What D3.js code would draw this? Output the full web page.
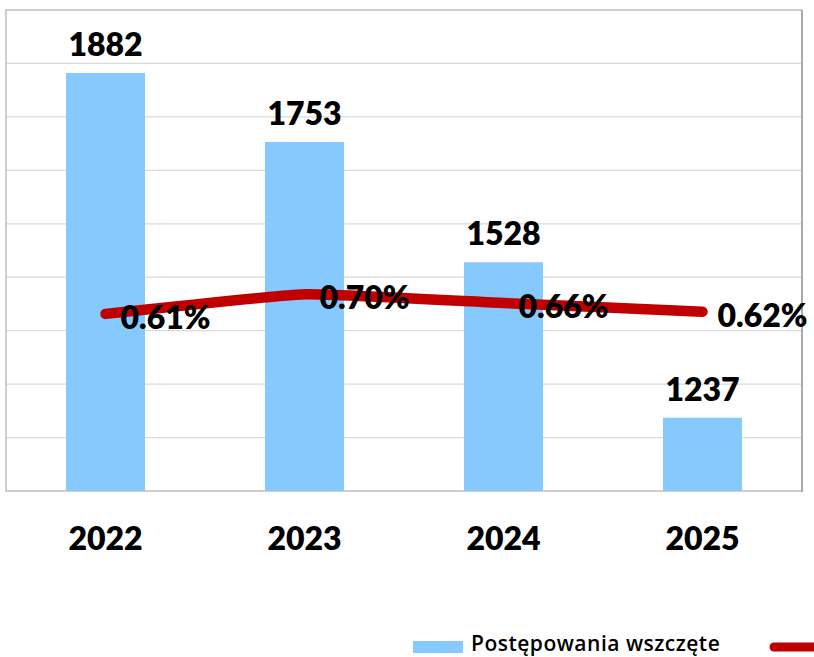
<!DOCTYPE html>
<html>
<head>
<meta charset="utf-8">
<script src="https://cdn.jsdelivr.net/npm/d3@7"></script>
<style>
  html, body { margin: 0; padding: 0; background: #fff; }
  svg { display: block; }
  .val { font-family: Lato, "Open Sans", sans-serif; font-weight: 800; font-size: 32px; fill: #000; }
  .legend { font-family: "Open Sans", sans-serif; font-weight: 600; font-size: 21px; letter-spacing: 0.5px; fill: #000; }
</style>
</head>
<body>
<svg id="chart" width="814" height="657"></svg>
<script>
// Chart data
const years = ['2022', '2023', '2024', '2025'];
const initiated = [1882, 1753, 1528, 1237];
const sharePct = [0.61, 0.70, 0.66, 0.62];
const countDomain = [1100, 2000];
const shareDomain = [-0.2, 2.0];
const legendLabels = ['Postępowania wszczęte'];

const BAR_COLOR = '#85c9ff';
const LINE_COLOR = '#c00000';

const plot = { left: 6, top: 10, right: 802, bottom: 491 };

const svg = d3.select('#chart');

const x = d3.scaleBand()
    .domain(years)
    .range([plot.left, plot.right])
    .paddingInner(0.603)
    .paddingOuter(0.3015);

const y = d3.scaleLinear().domain(countDomain).range([plot.bottom, plot.top]);
const y2 = d3.scaleLinear().domain(shareDomain).range([plot.bottom, plot.top]);

// gridlines
svg.append('g')
    .selectAll('line')
    .data(y.ticks(9).filter(t => t > countDomain[0] && t < countDomain[1]))
    .join('line')
    .attr('x1', plot.left).attr('x2', plot.right)
    .attr('y1', d => y(d)).attr('y2', d => y(d))
    .attr('stroke', '#d9d9d9')
    .attr('stroke-width', 1.2);

// plot frame
svg.append('rect')
    .attr('x', plot.left).attr('y', plot.top)
    .attr('width', plot.right - plot.left).attr('height', plot.bottom - plot.top)
    .attr('fill', 'none')
    .attr('stroke', '#b4b4b4')
    .attr('stroke-width', 1.3);
svg.append('line')
    .attr('x1', plot.right).attr('x2', plot.right)
    .attr('y1', plot.top).attr('y2', plot.bottom + 1)
    .attr('stroke', '#aaaaaa').attr('stroke-width', 2);

// bars
svg.append('g')
    .selectAll('rect')
    .data(years)
    .join('rect')
    .attr('x', d => x(d))
    .attr('width', x.bandwidth())
    .attr('y', (d, i) => y(initiated[i]))
    .attr('height', (d, i) => plot.bottom - y(initiated[i]))
    .attr('fill', BAR_COLOR);

// bar value labels
svg.append('g')
    .selectAll('text')
    .data(years)
    .join('text')
    .attr('class', 'val')
    .attr('text-anchor', 'middle')
    .attr('x', d => x(d) + x.bandwidth() / 2)
    .attr('y', (d, i) => y(initiated[i]) - 17)
    .text((d, i) => initiated[i]);

// x axis labels
const xAxis = d3.axisBottom(x).tickSize(0).tickPadding(0);
const xg = svg.append('g')
    .attr('transform', `translate(0,${plot.bottom})`)
    .call(xAxis);
xg.select('.domain').remove();
xg.selectAll('text')
    .attr('class', 'val')
    .attr('dy', null)
    .attr('y', 59)
    .style('font-size', null)
    .style('font-family', null);
xg.attr('font-size', null).attr('font-family', null);

// share line
const cx = d => x(d) + x.bandwidth() / 2;
const line = d3.line()
    .x(d => cx(d))
    .y((d, i) => y2(sharePct[i]))
    .curve(d3.curveCardinal.tension(0.65));

svg.append('path')
    .datum(years)
    .attr('d', line)
    .attr('fill', 'none')
    .attr('stroke', LINE_COLOR)
    .attr('stroke-width', 10.5)
    .attr('stroke-linecap', 'round')
    .attr('stroke-linejoin', 'round');

// share labels
svg.append('g')
    .selectAll('text')
    .data(years)
    .join('text')
    .attr('class', 'val')
    .attr('x', d => cx(d) + 15)
    .attr('y', (d, i) => y2(sharePct[i]) + 15)
    .text((d, i) => sharePct[i].toFixed(2) + '%');

// legend
const lg = svg.append('g');
lg.append('rect')
    .attr('x', 413).attr('y', 641)
    .attr('width', 50).attr('height', 12)
    .attr('fill', BAR_COLOR);
lg.append('text')
    .attr('class', 'legend')
    .attr('x', 471).attr('y', 651)
    .text(legendLabels[0]);
lg.append('line')
    .attr('x1', 774).attr('x2', 830)
    .attr('y1', 647).attr('y2', 647)
    .attr('stroke', LINE_COLOR)
    .attr('stroke-width', 9)
    .attr('stroke-linecap', 'round');
</script>
</body>
</html>
